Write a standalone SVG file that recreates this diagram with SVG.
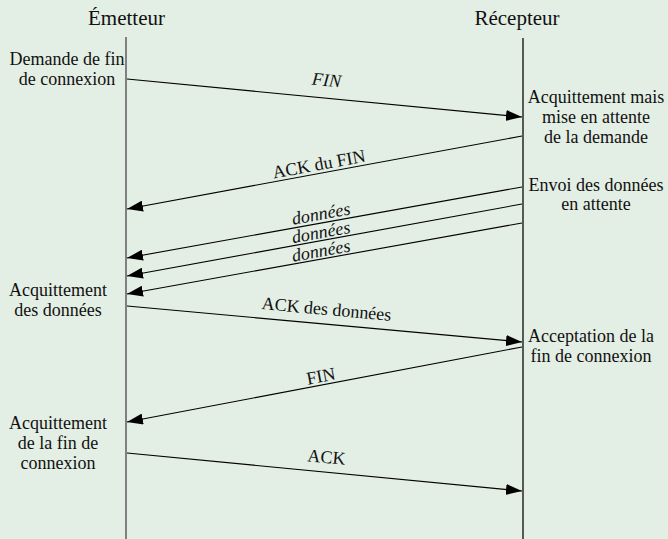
<svg xmlns="http://www.w3.org/2000/svg" width="668" height="539" viewBox="0 0 668 539">
<defs>
<marker id="arr" markerUnits="userSpaceOnUse" markerWidth="16" markerHeight="11" refX="16" refY="5.5" orient="auto">
<path d="M0,0 L16,5.5 L0,11 z" fill="#000"/>
</marker>
<style>
text{font-family:"Liberation Serif","Times New Roman",serif;fill:#111;font-size:18px;text-anchor:middle}
.title{font-size:21px}
.it{font-style:italic}
.life{stroke-width:1.6}
.msg{stroke:#000;stroke-width:1.1;fill:none;marker-end:url(#arr)}
</style>
</defs>
<rect width="668" height="539" fill="#e3eee4"/>
<g id="emetteur">
<text class="title" x="126.5" y="25">Émetteur</text>
<line class="life" x1="126" y1="37" x2="126" y2="539" stroke="#666"/>
</g>
<g id="recepteur">
<text class="title" x="517" y="25">Récepteur</text>
<line class="life" x1="523" y1="38" x2="523" y2="539" stroke="#333" stroke-width="1.2"/>
</g>
<g id="note-demande-fin">
<text x="67" y="65">Demande de fin</text>
<text x="67" y="85">de connexion</text>
</g>
<g id="note-acquittement-attente">
<text x="596" y="103">Acquittement mais</text>
<text x="596" y="123">mise en attente</text>
<text x="596" y="143">de la demande</text>
</g>
<g id="note-envoi-donnees">
<text x="596" y="191">Envoi des données</text>
<text x="596" y="210">en attente</text>
</g>
<g id="note-acquittement-donnees">
<text x="58" y="296">Acquittement</text>
<text x="58" y="316">des données</text>
</g>
<g id="note-acceptation">
<text x="591" y="342">Acceptation de la</text>
<text x="591" y="362">fin de connexion</text>
</g>
<g id="note-acquittement-fin">
<text x="58" y="429">Acquittement</text>
<text x="58" y="449">de la fin de</text>
<text x="58" y="469">connexion</text>
</g>
<g id="connectors">
<line class="msg" x1="127" y1="79" x2="522" y2="117"/>
<text class="it" transform="translate(326,86) rotate(5.48)">FIN</text>
<line class="msg" x1="522" y1="136" x2="127" y2="209"/>
<text transform="translate(320,170) rotate(-10.45)">ACK du FIN</text>
<line class="msg" x1="522" y1="187" x2="127" y2="258"/>
<text class="it" transform="translate(322,219.5) rotate(-10.2)">données</text>
<line class="msg" x1="522" y1="204" x2="127" y2="276"/>
<text class="it" transform="translate(322,238) rotate(-10.3)">données</text>
<line class="msg" x1="522" y1="223" x2="127" y2="294"/>
<text class="it" transform="translate(322,256.5) rotate(-10.2)">données</text>
<line class="msg" x1="127" y1="306" x2="522" y2="342"/>
<text transform="translate(326,315) rotate(5.2)">ACK des données</text>
<line class="msg" x1="522" y1="347" x2="127" y2="422"/>
<text transform="translate(322,382) rotate(-10.7)">FIN</text>
<line class="msg" x1="127" y1="453" x2="522" y2="491"/>
<text transform="translate(326,463) rotate(5.48)">ACK</text>
</g>
</svg>
